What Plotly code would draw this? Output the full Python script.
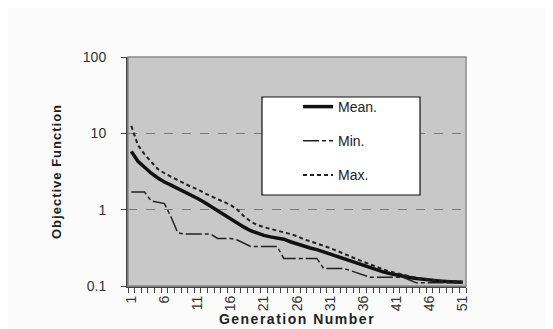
import plotly.graph_objects as go

generations = list(range(1, 52))

mean_vals = [5.8, 4.3, 3.6, 3.0, 2.6, 2.3, 2.1, 1.9, 1.75, 1.55,
             1.4, 1.25, 1.1, 0.97, 0.85, 0.75, 0.66, 0.59, 0.53, 0.49,
             0.46, 0.44, 0.43, 0.41, 0.38, 0.355, 0.335, 0.315, 0.30, 0.28,
             0.265, 0.245, 0.23, 0.215, 0.20, 0.185, 0.172, 0.162, 0.153, 0.146,
             0.139, 0.134, 0.129, 0.125, 0.122, 0.119, 0.117, 0.115, 0.114, 0.113,
             0.112]

min_vals = [1.7, 1.7, 1.7, 1.3, 1.25, 1.2, 0.8, 0.5, 0.48, 0.48,
            0.48, 0.48, 0.48, 0.42, 0.42, 0.42, 0.40, 0.36, 0.33, 0.33,
            0.33, 0.33, 0.33, 0.23, 0.23, 0.23, 0.23, 0.23, 0.23, 0.17,
            0.17, 0.17, 0.17, 0.16, 0.15, 0.14, 0.13, 0.13, 0.13, 0.13,
            0.13, 0.13, 0.12, 0.11, 0.11, 0.11, 0.11, 0.11, 0.11, 0.11,
            0.11]

max_vals = [12.5, 7.0, 5.3, 4.2, 3.4, 3.0, 2.7, 2.4, 2.2, 2.0,
            1.85, 1.65, 1.5, 1.37, 1.25, 1.15, 1.0, 0.82, 0.7, 0.63,
            0.59, 0.56, 0.54, 0.51, 0.48, 0.45, 0.41, 0.385, 0.36, 0.34,
            0.315, 0.29, 0.265, 0.245, 0.225, 0.208, 0.192, 0.178, 0.165, 0.155,
            0.147, 0.14, 0.133, 0.128, 0.124, 0.121, 0.119, 0.117, 0.116, 0.115,
            0.114]

x_tick_vals = [1, 6, 11, 16, 21, 26, 31, 36, 41, 46, 51]
x_tick_text = [str(v) for v in x_tick_vals]
y_tick_vals = [0.1, 1, 10, 100]
y_tick_text = ["0.1", "1", "10", "100"]

FONT = "Liberation Sans, Arial, sans-serif"

fig = go.Figure()
fig.add_trace(go.Scatter(x=generations, y=mean_vals, mode="lines", name="Mean.",
                         legendgroup="a",
                         line=dict(color="#111111", width=3.5)))
fig.add_trace(go.Scatter(x=generations, y=min_vals, mode="lines", name="Min.",
                         legendgroup="b",
                         line=dict(color="#222222", width=1.5, dash="16px,3px,4px,3px")))
fig.add_trace(go.Scatter(x=generations, y=max_vals, mode="lines", name="Max.",
                         legendgroup="c",
                         line=dict(color="#222222", width=2, dash="4px,3px")))

L, R, T, B = 120, 458, 49, 278
W, H = 553, 329
pw, ph = R - L, B - T

def px_x(p):
    return (p - L) / pw

def px_y(p):
    return (B - p) / ph

shapes = [
    # plot frame
    dict(type="rect", xref="paper", yref="paper", x0=0, x1=1, y0=0, y1=1,
         line=dict(color="#8a8a8a", width=1.5), layer="above"),
    # legend box
    dict(type="rect", xref="paper", yref="paper", x0=px_x(254), x1=px_x(412), y0=px_y(187), y1=px_y(89),
         fillcolor="white", line=dict(color="#111111", width=1.2), layer="above"),
]

fig.update_layout(
    width=W, height=H,
    margin=dict(l=L, r=W - R, t=T, b=H - B, autoexpand=False),
    paper_bgcolor="#fbfbfb",
    plot_bgcolor="#c8c8c8",
    font=dict(family=FONT, color="#2a2a2a", size=13),
    shapes=shapes,
    showlegend=True,
    legend=dict(x=px_x(290), y=px_y(83), xanchor="left", yanchor="top",
                bgcolor="rgba(0,0,0,0)", borderwidth=0,
                traceorder="grouped", tracegroupgap=13,
                font=dict(family=FONT, size=14, color="#222222")),
    xaxis=dict(
        range=[0.5, 51.5], tickmode="array", tickvals=x_tick_vals, ticktext=x_tick_text,
        tickangle=-90, ticks="", showgrid=False, zeroline=False,
        showline=True, linecolor="#444444", linewidth=2,
        minor=dict(ticks="outside", tick0=0.5, dtick=1, ticklen=5, tickcolor="#444444",
                   tickwidth=1, showgrid=False),
        ticklabelstandoff=2,
        tickfont=dict(size=14, color="#333333"),
        title=dict(text='<span style="letter-spacing:1.5px"><b>Generation Number</b></span>',
                   font=dict(size=14, color="#222222"), standoff=4),
    ),
    yaxis=dict(
        type="log", range=[-1, 2], tickmode="array", tickvals=y_tick_vals, ticktext=y_tick_text,
        ticks="outside", ticklen=5, tickcolor="#444444", ticklabelstandoff=12,
        showgrid=True, gridcolor="#7a7a7a", griddash="dash", gridwidth=1,
        zeroline=False, showline=True, linecolor="#444444", linewidth=2,
        tickfont=dict(size=14, color="#333333"),
        title=dict(text='<span style="letter-spacing:1px"><b>Objective Function</b></span>',
                   font=dict(size=13, color="#222222"), standoff=18),
    ),
)

fig.write_html("out.html")
